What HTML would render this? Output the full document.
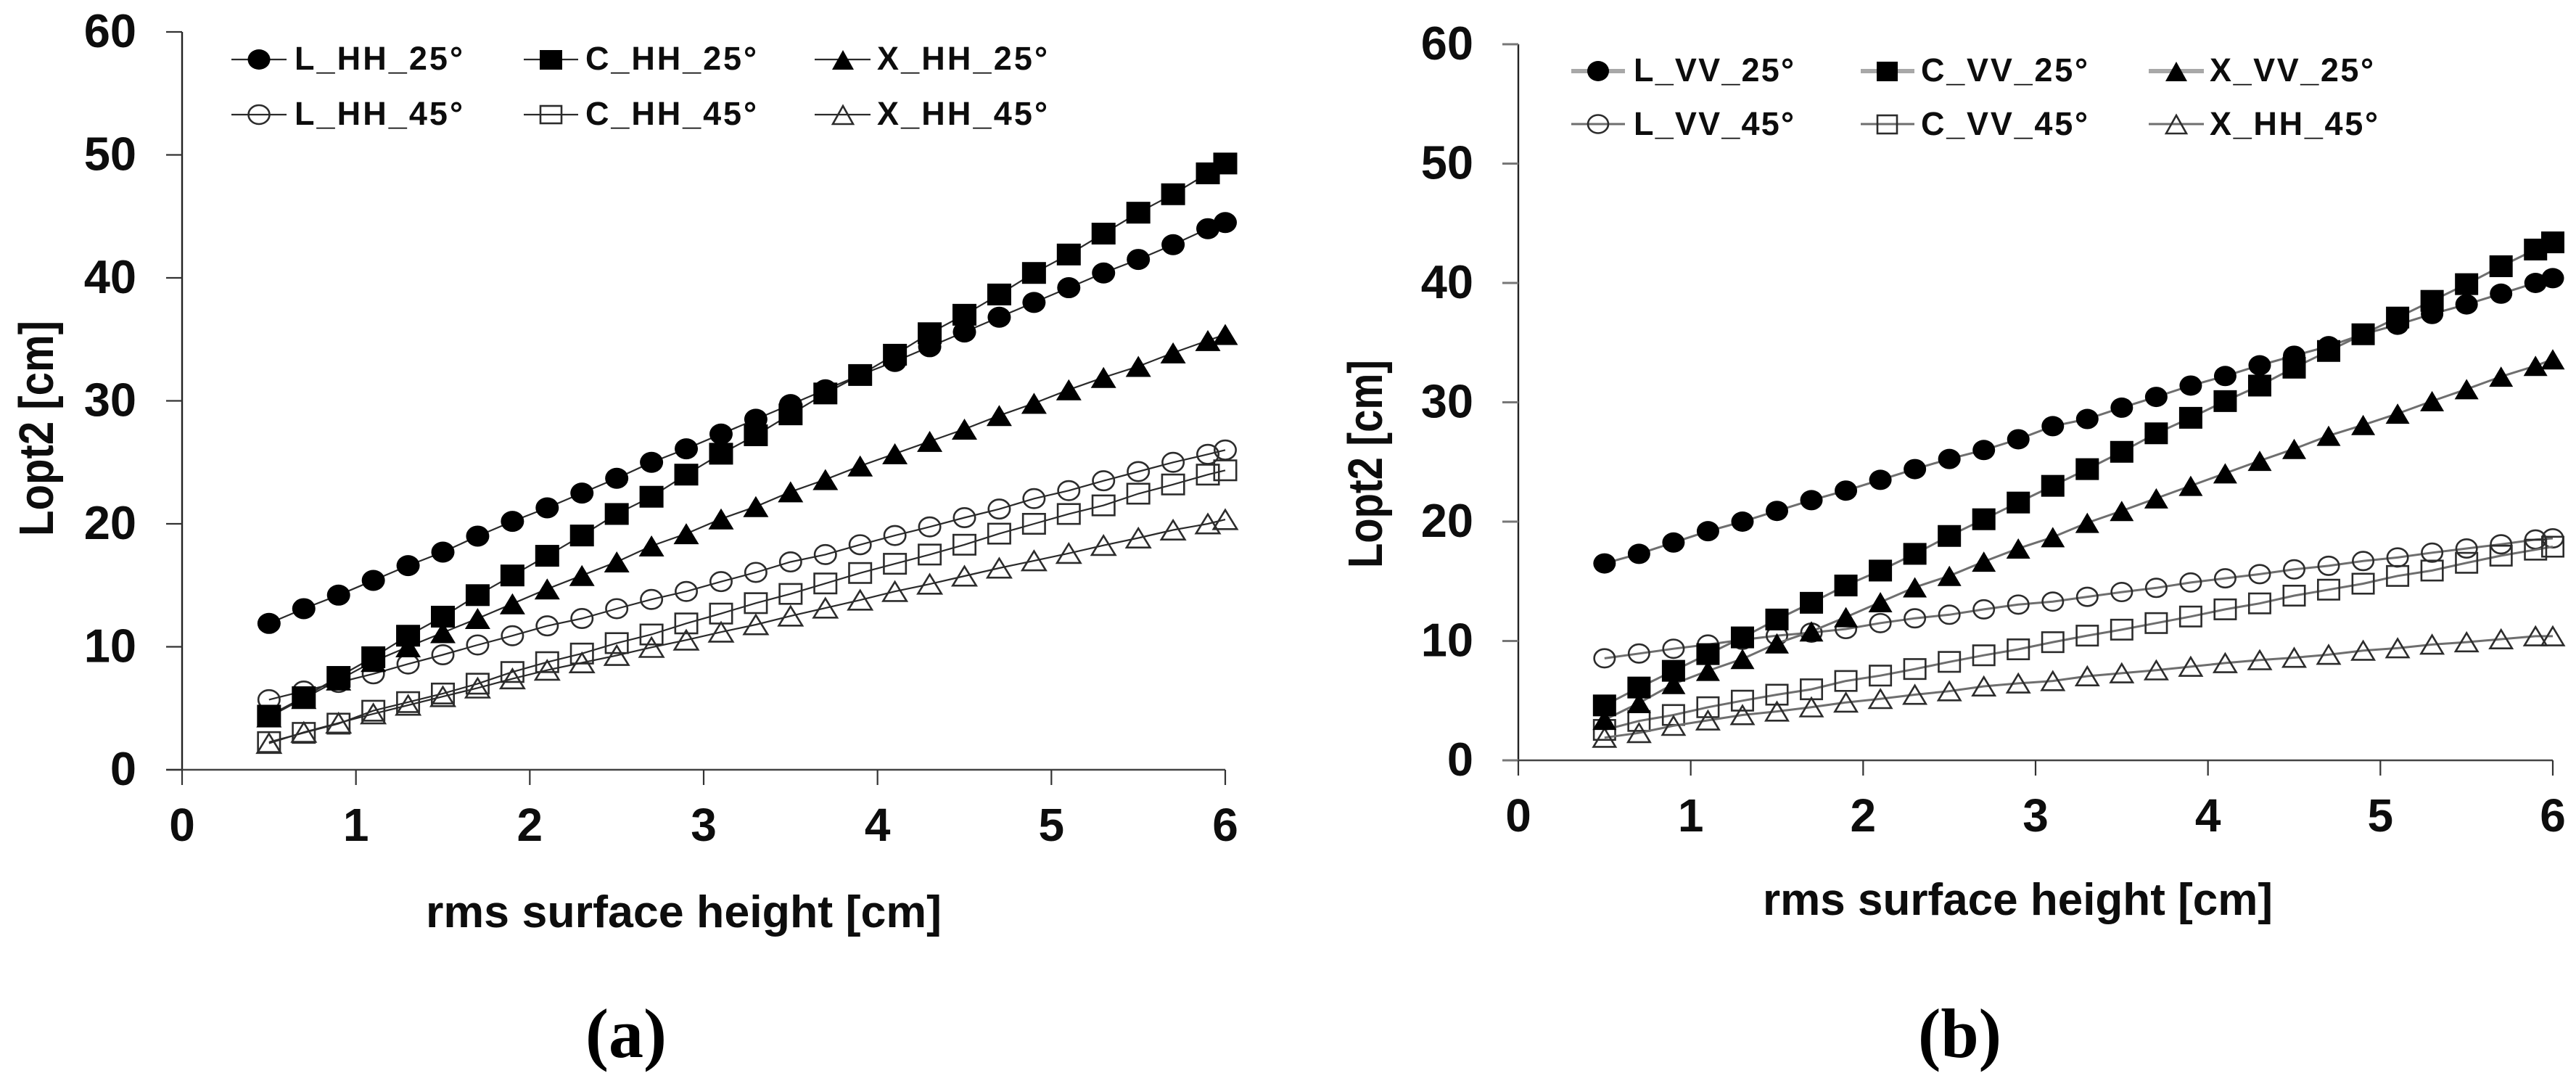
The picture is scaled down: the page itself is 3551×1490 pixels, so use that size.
<!DOCTYPE html>
<html lang="en">
<head>
<meta charset="utf-8">
<title>Lopt2 vs rms surface height</title>
<style>
html,body{margin:0;padding:0;background:#fff;}
body{width:3551px;height:1490px;overflow:hidden;}
svg{display:block;}
text{font-family:"Liberation Sans",sans-serif;font-weight:bold;fill:#0d0d0d;}
.cap{font-family:"Liberation Serif",serif;font-size:96px;fill:#000;}
.leg{font-size:45px;}
.lineA{stroke:#2a2a2a;stroke-width:2.2;fill:none;}
.lineB{stroke:#6e6e6e;stroke-width:3;fill:none;}
.lineBthick{stroke:#a8a8a8;stroke-width:6;fill:none;}
.open{fill:none;stroke:#2c2c2c;stroke-width:2.6;}
.solid{fill:#000;stroke:none;}
</style>
</head>
<body>
<svg id="fig" xmlns="http://www.w3.org/2000/svg" width="3551" height="1490" viewBox="0 0 3551 1490">
  <rect x="0" y="0" width="3551" height="1490" fill="#fff"/>

  <g id="panel-a">
    <text transform="translate(73,739) rotate(-90) scale(1,1.15)" font-size="58" textLength="297" lengthAdjust="spacingAndGlyphs">Lopt2 [cm]</text>
    <text x="587" y="1278" font-size="62" textLength="711" lengthAdjust="spacingAndGlyphs">rms surface height [cm]</text>
    <g>
      <g>
        <line class="lineA" x1="319" x2="395" y1="82" y2="82"/><ellipse class="solid" cx="357" cy="82" rx="15.5" ry="14"/>
        <text class="leg" x="406" y="96" textLength="232" lengthAdjust="spacing">L_HH_25°</text>
      </g>
      <g>
        <line class="lineA" x1="722" x2="797" y1="82" y2="82"/><rect class="solid" x="744" y="69" width="31" height="27"/>
        <text class="leg" x="807" y="96" textLength="236" lengthAdjust="spacing">C_HH_25°</text>
      </g>
      <g>
        <line class="lineA" x1="1123" x2="1200" y1="82" y2="82"/><polygon class="solid" points="1162,69 1177,96 1147,96"/>
        <text class="leg" x="1209" y="96" textLength="235" lengthAdjust="spacing">X_HH_25°</text>
      </g>
      <g>
        <line class="lineA" x1="319" x2="395" y1="158" y2="158"/><ellipse class="open" cx="357" cy="158" rx="14.5" ry="13"/>
        <text class="leg" x="406" y="172" textLength="232" lengthAdjust="spacing">L_HH_45°</text>
      </g>
      <g>
        <line class="lineA" x1="722" x2="797" y1="158" y2="158"/><rect class="open" x="745" y="146" width="29" height="24"/>
        <text class="leg" x="807" y="172" textLength="236" lengthAdjust="spacing">C_HH_45°</text>
      </g>
      <g>
        <line class="lineA" x1="1123" x2="1200" y1="158" y2="158"/><polygon class="open" points="1162,146 1176,171 1148,171"/>
        <text class="leg" x="1209" y="172" textLength="235" lengthAdjust="spacing">X_HH_45°</text>
      </g>
    </g>
  </g>

  <g id="panel-b">
    <text transform="translate(1905,783) rotate(-90) scale(1,1.2)" font-size="56" textLength="287" lengthAdjust="spacingAndGlyphs">Lopt2 [cm]</text>
    <text x="2430" y="1261" font-size="62" textLength="703" lengthAdjust="spacingAndGlyphs">rms surface height [cm]</text>
    <g>
      <g>
        <line class="lineBthick" x1="2166" x2="2240" y1="98" y2="98"/><ellipse class="solid" cx="2203" cy="98" rx="15" ry="14"/>
        <text class="leg" x="2252" y="112" textLength="221" lengthAdjust="spacing">L_VV_25°</text>
      </g>
      <g>
        <line class="lineBthick" x1="2565" x2="2639" y1="98" y2="98"/><rect class="solid" x="2587" y="85" width="29" height="27"/>
        <text class="leg" x="2648" y="112" textLength="230" lengthAdjust="spacing">C_VV_25°</text>
      </g>
      <g>
        <line class="lineBthick" x1="2962" x2="3038" y1="98" y2="98"/><polygon class="solid" points="3000,85 3015,112 2985,112"/>
        <text class="leg" x="3046" y="112" textLength="226" lengthAdjust="spacing">X_VV_25°</text>
      </g>
      <g>
        <line class="lineB" x1="2166" x2="2240" y1="171" y2="171"/><ellipse class="open" cx="2203" cy="171" rx="14" ry="12.5"/>
        <text class="leg" x="2252" y="186" textLength="221" lengthAdjust="spacing">L_VV_45°</text>
      </g>
      <g>
        <line class="lineB" x1="2565" x2="2639" y1="171" y2="171"/><rect class="open" x="2588" y="159" width="27" height="25"/>
        <text class="leg" x="2648" y="186" textLength="230" lengthAdjust="spacing">C_VV_45°</text>
      </g>
      <g>
        <line class="lineB" x1="2962" x2="3038" y1="171" y2="171"/><polygon class="open" points="3000,159 3014,184 2986,184"/>
        <text class="leg" x="3046" y="186" textLength="232" lengthAdjust="spacing">X_HH_45°</text>
      </g>
    </g>
  </g>

  <text class="cap" x="807" y="1457" textLength="112" lengthAdjust="spacingAndGlyphs">(a)</text>
  <text class="cap" x="2644" y="1457" textLength="115" lengthAdjust="spacingAndGlyphs">(b)</text>
</svg>

<script>
const xValues = [0.5,0.7,0.9,1.1,1.3,1.5,1.7,1.9,2.1,2.3,2.5,2.7,2.9,3.1,3.3,3.5,3.7,3.9,4.1,4.3,4.5,4.7,4.9,5.1,5.3,5.5,5.7,5.9,6.0];
const xTickLabels = [0,1,2,3,4,5,6];
const yTickLabels = [0,10,20,30,40,50,60];

const lHH25 = [11.9,13.1,14.2,15.4,16.6,17.7,19.0,20.2,21.3,22.5,23.7,25.0,26.1,27.3,28.5,29.7,30.9,32.1,33.2,34.4,35.6,36.8,38.0,39.2,40.4,41.5,42.7,44.0,44.5];
const cHH25 = [4.4,5.9,7.55,9.15,10.9,12.45,14.2,15.8,17.4,19.05,20.8,22.2,24.0,25.7,27.2,28.9,30.6,32.1,33.75,35.5,37.0,38.65,40.4,41.9,43.6,45.3,46.8,48.5,49.3];
const xHH25 = [4.3,5.8,7.3,8.8,10.0,11.15,12.3,13.5,14.7,15.8,16.9,18.2,19.2,20.4,21.4,22.6,23.6,24.7,25.7,26.7,27.7,28.8,29.8,30.9,31.9,32.8,33.9,34.9,35.4];
const lHH45 = [5.7,6.4,7.1,7.8,8.6,9.35,10.15,10.9,11.7,12.3,13.1,13.85,14.5,15.3,16.05,16.9,17.5,18.3,19.05,19.75,20.5,21.2,22.05,22.7,23.5,24.25,25.0,25.65,26.0];
const cHH45 = [2.25,3.0,3.75,4.8,5.5,6.2,7.0,7.95,8.75,9.45,10.3,11.0,11.9,12.7,13.55,14.3,15.15,16.0,16.75,17.5,18.3,19.2,20.0,20.8,21.5,22.45,23.2,24.0,24.35];
const xHH45 = [2.15,3.05,3.8,4.55,5.25,5.95,6.65,7.4,8.1,8.7,9.3,9.95,10.55,11.2,11.8,12.5,13.15,13.8,14.5,15.1,15.75,16.4,17.0,17.6,18.25,18.85,19.5,20.0,20.35];

const lVV25 = [16.5,17.3,18.25,19.2,20.0,20.9,21.8,22.6,23.5,24.4,25.25,26.0,26.9,28.0,28.6,29.55,30.45,31.4,32.2,33.1,33.9,34.7,35.7,36.5,37.4,38.2,39.1,40.0,40.4];
const cVV25 = [4.6,6.1,7.5,8.9,10.3,11.8,13.2,14.65,15.9,17.3,18.8,20.2,21.6,23.0,24.4,25.85,27.4,28.7,30.1,31.4,32.9,34.3,35.7,37.1,38.5,39.9,41.4,42.8,43.4];
const xVV25 = [3.4,4.8,6.4,7.5,8.5,9.8,10.8,12.0,13.25,14.5,15.45,16.65,17.75,18.7,19.9,20.9,21.95,23.0,24.05,25.1,26.1,27.2,28.1,29.05,30.1,31.1,32.15,33.05,33.6];
const lVV45 = [8.55,8.95,9.35,9.7,10.1,10.45,10.7,11.0,11.5,11.9,12.2,12.65,13.05,13.3,13.7,14.1,14.45,14.9,15.25,15.6,16.0,16.3,16.7,17.0,17.4,17.75,18.1,18.5,18.6];
const cVV45 = [2.55,3.3,3.8,4.45,5.0,5.5,5.95,6.65,7.1,7.65,8.25,8.8,9.3,9.9,10.45,10.95,11.5,12.05,12.65,13.15,13.8,14.3,14.8,15.45,15.9,16.55,17.15,17.65,17.9];
const xHH45b = [1.9,2.3,2.9,3.35,3.8,4.1,4.45,4.85,5.15,5.5,5.8,6.2,6.45,6.65,7.05,7.3,7.55,7.85,8.15,8.4,8.6,8.85,9.2,9.4,9.7,9.9,10.15,10.4,10.4];

const panelASeries = [
  {name:'l-hh-45', values:lHH45, marker:'circle', solid:false},
  {name:'c-hh-45', values:cHH45, marker:'square', solid:false},
  {name:'x-hh-45', values:xHH45, marker:'triangle', solid:false},
  {name:'x-hh-25', values:xHH25, marker:'triangle', solid:true},
  {name:'l-hh-25', values:lHH25, marker:'circle', solid:true},
  {name:'c-hh-25', values:cHH25, marker:'square', solid:true}
];
const panelBSeries = [
  {name:'l-vv-45', values:lVV45, marker:'circle', solid:false},
  {name:'c-vv-45', values:cVV45, marker:'square', solid:false},
  {name:'x-hh-45-b', values:xHH45b, marker:'triangle', solid:false},
  {name:'x-vv-25', values:xVV25, marker:'triangle', solid:true},
  {name:'l-vv-25', values:lVV25, marker:'circle', solid:true},
  {name:'c-vv-25', values:cVV25, marker:'square', solid:true}
];

const SVGNS = 'http://www.w3.org/2000/svg';
function make(parent, tag, attrs) {
  const el = document.createElementNS(SVGNS, tag);
  for (const k in attrs) el.setAttribute(k, attrs[k]);
  parent.appendChild(el);
  return el;
}

function drawPanel(cfg) {
  const root = document.getElementById(cfg.id);
  const sx = v => cfg.x0 + (v / 6) * (cfg.x6 - cfg.x0);
  const sy = v => cfg.y0 + (v / 60) * (cfg.y60 - cfg.y0);

  const axes = make(root, 'g', {});
  
  

  const yAxis = make(axes, 'line', {x1:sx(0), x2:sx(0), y1:sy(60), y2:sy(0), stroke:'#222', 'stroke-width':2.4});
  
  

  const xAxis = make(axes, 'line', {x1:sx(0) - 22, x2:sx(6), y1:sy(0), y2:sy(0), stroke:'#444', 'stroke-width':2.4});
  
  

  yTickLabels.forEach(v => {
    const tick = make(axes, 'line', {x1:sx(0) - 22, x2:sx(0), y1:sy(v), y2:sy(v), stroke:cfg.tickColor, 'stroke-width':cfg.tickWidth});
    
    
    const label = make(axes, 'text', {x:cfg.yLabelX, y:sy(v) + 21, 'text-anchor':'end', 'font-size':65});
    
    
    label.textContent = v;
  });

  xTickLabels.forEach(v => {
    const tick = make(axes, 'line', {x1:sx(v), x2:sx(v), y1:sy(0), y2:sy(0) + 21, stroke:'#333', 'stroke-width':2.2});
    
    
    const label = make(axes, 'text', {x:sx(v), y:cfg.xLabelY, 'text-anchor':'middle', 'font-size':64});
    
    
    label.textContent = v;
  });

  cfg.series.forEach(s => {
    const group = make(root, 'g', {});
    
    

    const pts = s.values.map((v, i) => sx(xValues[i]).toFixed(1) + ',' + sy(v).toFixed(1)).join(' ');
    const line = make(group, 'polyline', {points:pts, class:cfg.lineClass});
    
    

    s.values.forEach((v, i) => {
      const cx = sx(xValues[i]);
      const cy = sy(v);
      const cls = s.solid ? 'solid' : 'open';
      const d = s.solid ? 0 : 1.3;
      let mark;
      if (s.marker === 'circle') {
        mark = make(group, 'ellipse', {cx:cx, cy:cy, rx:cfg.cw - d, ry:cfg.ch - d, class:cls});
      } else if (s.marker === 'square') {
        mark = make(group, 'rect', {x:cx - cfg.sw + d, y:cy - cfg.sh + d, width:2 * (cfg.sw - d), height:2 * (cfg.sh - d), class:cls});
      } else {
        const p = [[cx, cy - cfg.th + d], [cx + cfg.tw - d, cy + cfg.th - d], [cx - cfg.tw + d, cy + cfg.th - d]];
        mark = make(group, 'polygon', {points:p.map(q => q[0].toFixed(1) + ',' + q[1].toFixed(1)).join(' '), class:cls});
      }
      
      
    });
  });
}

drawPanel({id:'panel-a', tag:'a', x0:251, x6:1689, y0:1061, y60:44, yLabelX:188, xLabelY:1159,
  tickColor:'#333', tickWidth:2.2, lineClass:'lineA', series:panelASeries,
  cw:16, ch:14.5, sw:16.5, sh:15, tw:17.5, th:14.5});
drawPanel({id:'panel-b', tag:'b', x0:2093, x6:3519, y0:1048, y60:61, yLabelX:2031, xLabelY:1146,
  tickColor:'#777', tickWidth:3, lineClass:'lineB', series:panelBSeries,
  cw:15.5, ch:14, sw:16, sh:15, tw:16.5, th:14});
</script>
</body>
</html>
